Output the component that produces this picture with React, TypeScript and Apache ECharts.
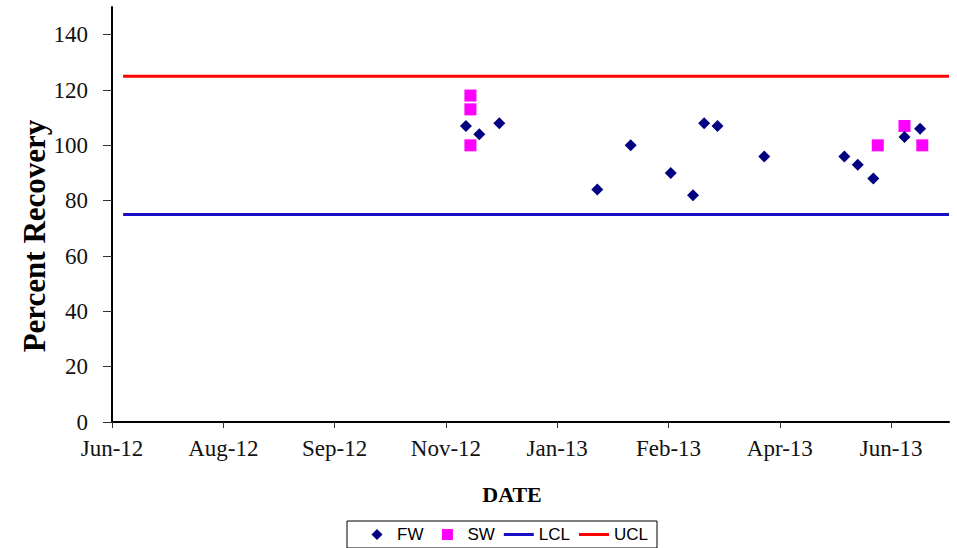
import React, { useEffect, useRef } from "react";
import * as echarts from "echarts";

const ORIGIN = Date.UTC(2012, 5, 20);
const DAY = 86400000;
const MONTHS = ["Jan", "Feb", "Mar", "Apr", "May", "Jun", "Jul", "Aug", "Sep", "Oct", "Nov", "Dec"];

const fwDates = [
  "2012-11-26", "2012-12-02", "2012-12-11", "2013-01-24", "2013-02-08",
  "2013-02-26", "2013-03-08", "2013-03-13", "2013-03-19", "2013-04-09",
  "2013-05-15", "2013-05-21", "2013-05-28", "2013-06-11", "2013-06-18",
];
const fwValues = [107, 104, 108, 84, 100, 90, 82, 108, 107, 96, 96, 93, 88, 103, 106];

const swDates = ["2012-11-28", "2012-11-28", "2012-11-28", "2013-05-30", "2013-06-11", "2013-06-19"];
const swValues = [118, 113, 100, 100, 107, 100];

const limitDates = ["2012-06-25", "2013-07-01"];
const lclValue = 75;
const uclValue = 125;

const xTickDays = [0, 50, 100, 150, 200, 250, 300, 350];
const yTickValues = [0, 20, 40, 60, 80, 100, 120, 140];

const toDay = (s: string) => (Date.parse(s + "T00:00:00Z") - ORIGIN) / DAY;
const fmtDay = (d: number) => {
  const dt = new Date(ORIGIN + d * DAY);
  return MONTHS[dt.getUTCMonth()] + "-" + String(dt.getUTCFullYear()).slice(2);
};

const LINE_ICON = "path://M0 0 L30 0 L30 3 L0 3 Z";
const DIAMOND_ICON = "path://M0 5.5 L0 5.5 M30 5.5 L30 5.5 M15 0 L20.5 5.5 L15 11 L9.5 5.5 Z";
const SQUARE_ICON = "path://M0 5.5 L0 5.5 M30 5.5 L30 5.5 M9.5 0 L20.5 0 L20.5 11 L9.5 11 Z";

export default function App() {
  const ref = useRef<HTMLDivElement>(null);
  useEffect(() => {
    if (!ref.current) return;
    const chart = echarts.init(ref.current, null, { renderer: "svg" });
    const serif = "'Liberation Serif', 'Times New Roman', serif";
    const sans = "'Liberation Sans', Arial, sans-serif";
    chart.setOption({
      animation: false,
      backgroundColor: "#ffffff",
      grid: { left: 112, right: 8, top: 7, bottom: 126, containLabel: false },
      xAxis: {
        type: "value",
        min: 0,
        max: toDay("2013-07-01"),
        interval: 50,
        splitLine: { show: false },
        axisLine: { show: true, onZero: false, lineStyle: { color: "#000", width: 2 } },
        axisTick: { show: true, length: 6, customValues: xTickDays, lineStyle: { color: "#333", width: 1 } },
        axisLabel: {
          customValues: xTickDays,
          formatter: (v: number) => fmtDay(v),
          fontFamily: serif,
          fontSize: 23,
          color: "#111",
          margin: 15,
        },
      },
      yAxis: {
        type: "value",
        min: 0,
        max: 150,
        interval: 20,
        splitLine: { show: false },
        axisLine: { show: true, lineStyle: { color: "#000", width: 2 } },
        axisTick: { show: true, length: 9, customValues: yTickValues, lineStyle: { color: "#333", width: 1 } },
        axisLabel: {
          customValues: yTickValues,
          fontFamily: serif,
          fontSize: 23,
          color: "#111",
          margin: 24,
        },
      },
      legend: {
        left: 347,
        top: 521,
        orient: "horizontal",
        itemWidth: 30,
        itemHeight: 11,
        itemGap: 9,
        symbolKeepAspect: true,
        padding: [5, 9, 5, 15],
        borderColor: "#000",
        borderWidth: 1,
        textStyle: { fontFamily: sans, fontSize: 17, color: "#000" },
        data: [
          { name: "FW", icon: DIAMOND_ICON },
          { name: "SW", icon: SQUARE_ICON },
          { name: "LCL", icon: LINE_ICON },
          { name: "UCL", icon: LINE_ICON },
        ],
      },
      graphic: [
        {
          type: "text",
          x: 34,
          y: 236,
          rotation: Math.PI / 2,
          style: {
            text: "Percent Recovery",
            font: "bold 31px " + serif,
            fill: "#000",
            textAlign: "center",
            textVerticalAlign: "middle",
          },
        },
        {
          type: "text",
          x: 512,
          y: 494,
          style: {
            text: "DATE",
            font: "bold 22px " + serif,
            fill: "#000",
            textAlign: "center",
            textVerticalAlign: "middle",
          },
        },
      ],
      series: [
        {
          name: "FW",
          type: "scatter",
          symbol: "diamond",
          symbolSize: 12,
          symbolKeepAspect: true,
          itemStyle: { color: "#000080", opacity: 1 },
          data: fwDates.map((d, i) => [toDay(d), fwValues[i]]),
          z: 5,
        },
        {
          name: "SW",
          type: "scatter",
          symbol: "rect",
          symbolSize: 12,
          symbolKeepAspect: true,
          itemStyle: { color: "#FF00FF", opacity: 1 },
          data: swDates.map((d, i) => [toDay(d), swValues[i]]),
          z: 4,
        },
        {
          name: "LCL",
          type: "line",
          symbol: "none",
          lineStyle: { color: "#1A0DC4", width: 3 },
          itemStyle: { color: "#1A0DC4" },
          data: limitDates.map((d) => [toDay(d), lclValue]),
        },
        {
          name: "UCL",
          type: "line",
          symbol: "none",
          lineStyle: { color: "#FF0000", width: 3 },
          itemStyle: { color: "#FF0000" },
          data: limitDates.map((d) => [toDay(d), uclValue]),
        },
      ],
    });
    return () => chart.dispose();
  }, []);
  return <div ref={ref} style={{ width: 957, height: 548, position: "absolute", left: 0, top: 0 }} />;
}
